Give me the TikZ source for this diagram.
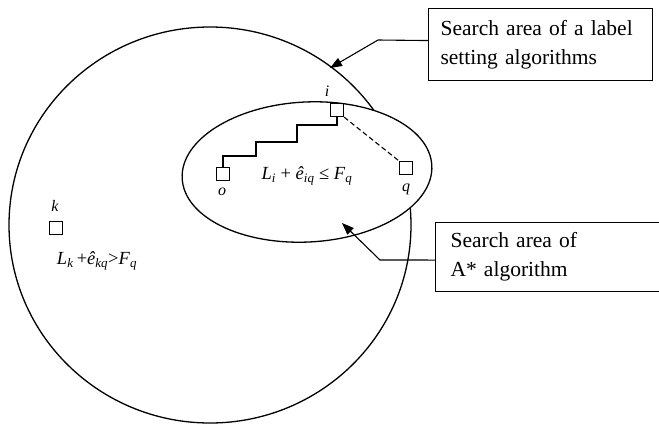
\documentclass[tikz,border=0pt]{standalone}
\usepackage{fontspec}
\setmainfont{Liberation Serif}
\usetikzlibrary{arrows.meta}
\newcommand\vv[1]{\textit{#1}}
\newcommand\sbx[1]{\textsubscript{\textit{#1}}}
\tikzset{
  sq/.style={draw, line width=1.3pt, minimum size=13pt, inner sep=0pt},
  lbl/.style={inner sep=0pt, font=\fontsize{16}{18}\selectfont},
  eq/.style={inner sep=0pt, font=\fontsize{18.5}{20}\selectfont},
  callout/.style={draw, line width=1.1pt, anchor=north west, align=left,
    font=\fontsize{21.5}{29}\selectfont, inner xsep=12pt, inner ysep=0pt},
  pointer/.style={line width=1.1pt, -{Triangle[length=12pt,width=9pt]}},
  area/.style={line width=1.3pt}
}
\begin{document}
\begin{tikzpicture}[x=1pt,y=-1pt]
\useasboundingbox (0,0) rectangle (659,424);
% search areas
\draw[area] (210,225) ellipse [x radius=201, y radius=198];
\draw[area, fill=white, rotate around={3:(307,172)}] (307,172) ellipse [x radius=125, y radius=70];
% squares
\node[sq] (o) at (223,174) {};
\node[sq] (i) at (337,110) {};
\node[sq] (q) at (406,168) {};
\node[sq] (k) at (56,228) {};
% labels
\node[lbl] (li) at (327,91) {\vv{i}};
\node[lbl] (lo) at (222,192) {\vv{o}};
\node[lbl] (lq) at (406,189) {\vv{q}};
\node[lbl] (lk) at (55,206) {\vv{k}};
\node[eq] (ineq1) at (307,176) {\vv{L}\sbx{i} + \vv{ê}\sbx{iq} ≤ \vv{F}\sbx{q}};
\node[eq] (ineq2) at (97,261) {\vv{L}\sbx{k}\,+\vv{ê}\sbx{kq}>\vv{F}\sbx{q}};
% path o -> i
\draw[line width=1.1pt] (o.north) |- (256,156) |- (297,142) |- (337,125) -- (i.south);
\draw[line width=1.1pt, dashed, dash pattern=on 5pt off 3pt] (i.south east) -- (q.north west);
% callout boxes
\node[callout, minimum width=224pt, minimum height=72pt, text width=200pt] (b1) at (428,8)
  {Search area of a label\\setting algorithms};
\node[callout, minimum width=260pt, minimum height=69pt, text width=236pt, inner xsep=15pt] (b2) at (435,222)
  {Search area of\\A* algorithm};
% pointers
\coordinate (t1) at (330,68);
\coordinate (t2) at (342,223);
\draw[pointer] ([yshift=4pt]b1.west) -- (378,40) -- (t1);
\draw[pointer] ([yshift=-3pt]b2.west) -- (380,260) -- (t2);
\end{tikzpicture}
\end{document}
